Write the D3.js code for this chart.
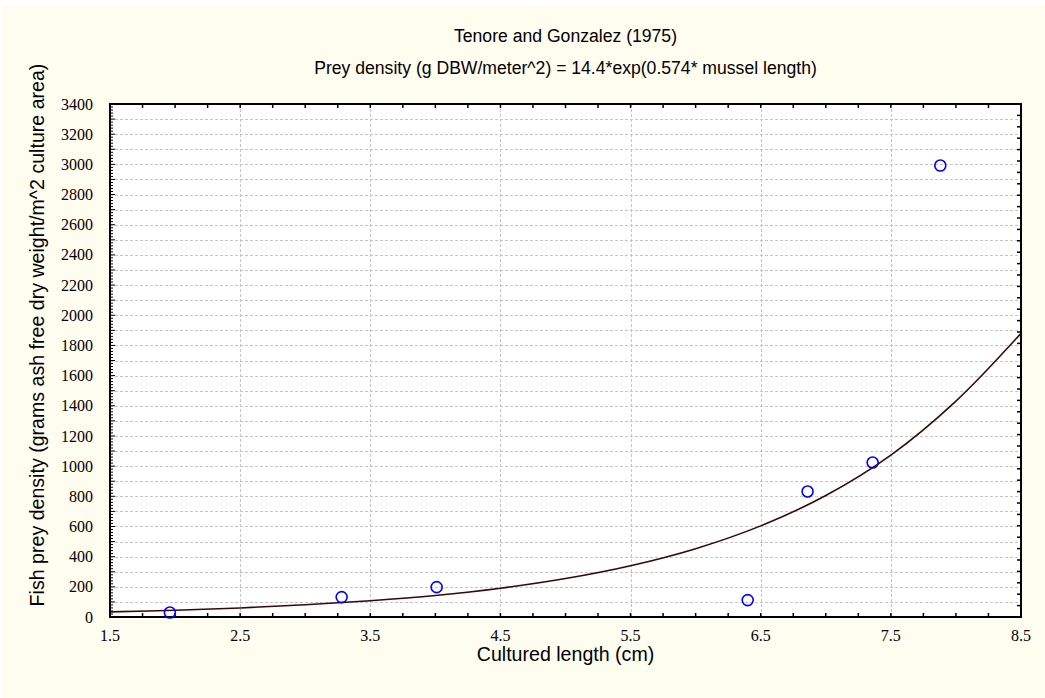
<!DOCTYPE html>
<html>
<head>
<meta charset="utf-8">
<script src="https://cdn.jsdelivr.net/npm/d3@7.9.0/dist/d3.min.js"></script>
<style>
  body { margin: 0; background: #ffffff; }
  svg { display: block; }
</style>
</head>
<body>
<svg id="chart"></svg>
<script>
// Observed points (cultured length cm, prey density)
const lengths = [1.96, 3.28, 4.01, 6.40, 6.86, 7.36, 7.88];
const densities = [30, 132, 198, 112, 832, 1024, 2992];

// Fitted curve
const curveX = [1.5, 2.0, 2.5, 3.0, 3.5, 4.0, 4.5, 5.0, 5.5, 6.0, 6.5, 7.0, 7.5, 8.0, 8.5];
const curveY = [34, 45, 60, 81, 108, 143, 191, 255, 340, 453, 604, 805, 1073, 1431, 1880];

const xTicks = [1.5, 2.5, 3.5, 4.5, 5.5, 6.5, 7.5, 8.5];
const yTicks = d3.range(0, 3401, 200);

const W = 1045, H = 698;
const margin = { top: 104, right: 24, bottom: 81, left: 110 },
      width = W - margin.left - margin.right,
      height = H - margin.top - margin.bottom;

const svgRoot = d3.select("#chart")
    .attr("width", W)
    .attr("height", H);

// cream background
svgRoot.append("rect")
    .attr("x", 2).attr("y", 5)
    .attr("width", W - 2).attr("height", H - 5)
    .attr("fill", "#fffdf0");

const x = d3.scaleLinear().domain([1.5, 8.5]).range([0, width]);
const y = d3.scaleLinear().domain([0, 3400]).range([height, 0]);

const svg = svgRoot.append("g")
    .attr("transform", `translate(${margin.left},${margin.top})`);

svg.append("rect")
    .attr("width", width).attr("height", height)
    .attr("fill", "#ffffff");

// Grid
svg.append("g")
    .selectAll("line")
    .data(d3.range(100, 3400, 100))
    .enter()
    .append("line")
    .attr("x1", 0).attr("x2", width)
    .attr("y1", d => Math.round(y(d)) + 0.5)
    .attr("y2", d => Math.round(y(d)) + 0.5)
    .attr("stroke", "#c4c4c4")
    .attr("stroke-width", 1)
    .attr("stroke-dasharray", "3,2");

svg.append("g")
    .selectAll("line")
    .data(xTicks.slice(1, -1))
    .enter()
    .append("line")
    .attr("x1", d => Math.round(x(d)) + 0.5)
    .attr("x2", d => Math.round(x(d)) + 0.5)
    .attr("y1", 0).attr("y2", height)
    .attr("stroke", "#c4c4c4")
    .attr("stroke-width", 1)
    .attr("stroke-dasharray", "3,2");

// Ticks (inward)
const tickG = svg.append("g").attr("stroke", "#000");

// bottom and top: every 0.25
const xMinor = d3.range(1.5, 8.5001, 0.25);
tickG.selectAll(".tb")
    .data(xMinor)
    .enter()
    .append("line")
    .attr("x1", d => x(d)).attr("x2", d => x(d))
    .attr("y1", height).attr("y2", height - 4)
    .attr("stroke-width", 1.5);
tickG.selectAll(".tt")
    .data(xMinor)
    .enter()
    .append("line")
    .attr("x1", d => x(d)).attr("x2", d => x(d))
    .attr("y1", 0).attr("y2", 4)
    .attr("stroke-width", 1.5);

// left: dense ticks every 20
tickG.selectAll(".tl")
    .data(d3.range(0, 3401, 20))
    .enter()
    .append("line")
    .attr("x1", 0)
    .attr("x2", d => d % 100 === 0 ? 5 : 3)
    .attr("y1", d => y(d)).attr("y2", d => y(d))
    .attr("stroke-width", 1);

// right: ticks from a finer secondary scale
const yRight = d3.scaleLinear().domain([0, 45]).range([height, 0]);
tickG.selectAll(".tr")
    .data(d3.range(0, 46))
    .enter()
    .append("line")
    .attr("x1", width)
    .attr("x2", width - 4)
    .attr("y1", d => yRight(d)).attr("y2", d => yRight(d))
    .attr("stroke-width", 1.5);

// Frame
svg.append("rect")
    .attr("width", width).attr("height", height)
    .attr("fill", "none")
    .attr("stroke", "#000")
    .attr("stroke-width", 2);

// Tick labels
const serif = "'Liberation Serif', 'Times New Roman', serif";
svg.append("g")
    .selectAll("text")
    .data(yTicks)
    .enter()
    .append("text")
    .attr("x", -17)
    .attr("y", d => y(d))
    .attr("dy", "0.35em")
    .attr("text-anchor", "end")
    .style("font-family", serif)
    .style("font-size", "16px")
    .text(d => d);

svg.append("g")
    .selectAll("text")
    .data(xTicks)
    .enter()
    .append("text")
    .attr("x", d => x(d))
    .attr("y", height + 24)
    .attr("text-anchor", "middle")
    .style("font-family", serif)
    .style("font-size", "16px")
    .text(d => d.toFixed(1));

// Fitted curve
const line = d3.line()
    .x(d => x(d[0]))
    .y(d => y(d[1]))
    .curve(d3.curveCatmullRom);

svg.append("path")
    .datum(curveX.map((v, i) => [v, curveY[i]]))
    .attr("d", line)
    .attr("fill", "none")
    .attr("stroke", "#3a0606")
    .attr("stroke-width", 1.6);

// Points
svg.selectAll("circle")
    .data(lengths.map((v, i) => [v, densities[i]]))
    .enter()
    .append("circle")
    .attr("cx", d => x(d[0]))
    .attr("cy", d => y(d[1]))
    .attr("r", 5.5)
    .attr("fill", "none")
    .attr("stroke", "#0000ff")
    .attr("stroke-width", 1.6);

// Titles
const sans = "'Liberation Sans', Arial, sans-serif";
svgRoot.append("text")
    .attr("x", margin.left + width / 2)
    .attr("y", 42)
    .attr("text-anchor", "middle")
    .style("font-family", sans)
    .style("font-size", "17.6px")
    .text("Tenore and Gonzalez (1975)");

svgRoot.append("text")
    .attr("x", margin.left + width / 2)
    .attr("y", 74)
    .attr("text-anchor", "middle")
    .style("font-family", sans)
    .style("font-size", "17.6px")
    .text("Prey density (g DBW/meter^2) = 14.4*exp(0.574* mussel length)");

// X-axis label
svgRoot.append("text")
    .attr("x", margin.left + width / 2)
    .attr("y", 661)
    .attr("text-anchor", "middle")
    .style("font-family", sans)
    .style("font-size", "19.6px")
    .text("Cultured length (cm)");

// Y-axis label
svgRoot.append("text")
    .attr("transform", "rotate(-90)")
    .attr("x", -335)
    .attr("y", 44)
    .attr("text-anchor", "middle")
    .style("font-family", sans)
    .style("font-size", "19.6px")
    .text("Fish prey density (grams ash free dry weight/m^2 culture area)");
</script>
</body>
</html>
